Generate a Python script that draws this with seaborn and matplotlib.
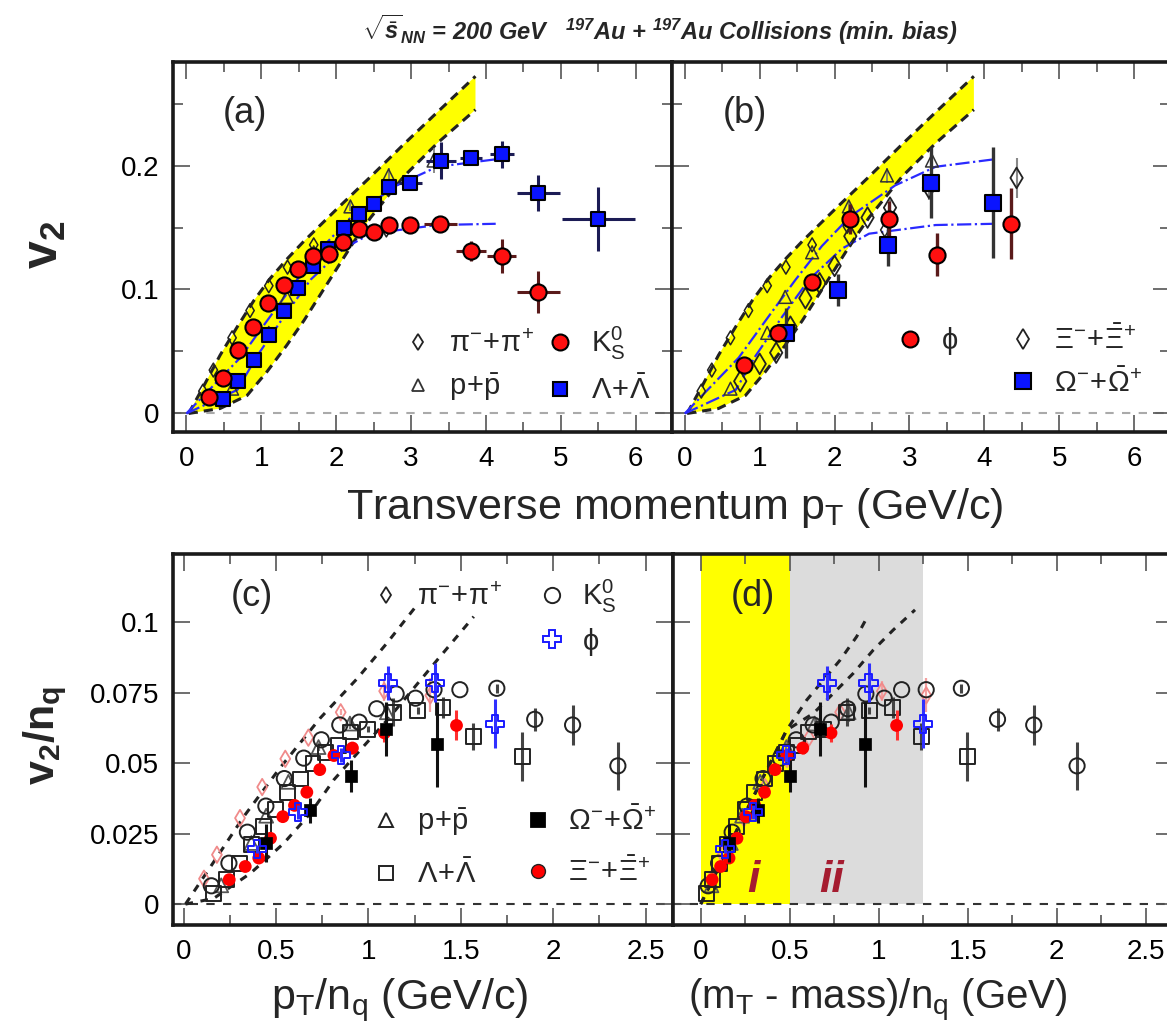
import numpy as np
import matplotlib
matplotlib.use("Agg")
import matplotlib.pyplot as plt
from matplotlib.lines import Line2D
from matplotlib.ticker import MultipleLocator, FuncFormatter
import seaborn as sns

# ------------------------------------------------------------------ data
# v2 vs pT (panels a, b)
pion_pt = [0.22, 0.36, 0.61, 0.85, 1.10, 1.35, 1.70, 2.17, 2.67]
pion_v2 = [0.018, 0.035, 0.061, 0.083, 0.103, 0.118, 0.136, 0.151, 0.148]
pion_err = [0, 0, 0, 0, 0, 0, 0.002, 0.007, 0.012]

proton_pt = [0.61, 1.10, 1.34, 1.70, 2.19, 2.70, 3.30]
proton_v2 = [0.020, 0.065, 0.094, 0.130, 0.167, 0.192, 0.204]
proton_err = [0, 0, 0, 0, 0.004, 0.006, 0.010]

k0s_pt = [0.30, 0.49, 0.69, 0.89, 1.09, 1.30, 1.49, 1.69, 1.90, 2.09, 2.30, 2.51,
          2.71, 2.99, 3.39, 3.80, 4.21, 4.70]
k0s_v2 = [0.013, 0.029, 0.051, 0.0695, 0.089, 0.1035, 0.1165, 0.127, 0.129, 0.1385,
          0.149, 0.146, 0.152, 0.152, 0.153, 0.131, 0.127, 0.098]
k0s_err = [0, 0, 0, 0, 0, 0, 0, 0, 0, 0, 0, 0, 0, 0, 0.003, 0.008, 0.014, 0.017]
k0s_xerr = [0, 0, 0, 0, 0, 0, 0, 0, 0, 0, 0, 0, 0, 0, 0.22, 0.20, 0.19, 0.29]

lam_pt = [0.49, 0.69, 0.90, 1.10, 1.30, 1.49, 1.69, 1.89, 2.10, 2.30, 2.51, 2.71,
          2.99, 3.40, 3.80, 4.21, 4.70, 5.50]
lam_v2 = [0.0115, 0.026, 0.043, 0.063, 0.083, 0.101, 0.119, 0.133, 0.150, 0.161,
          0.169, 0.183, 0.186, 0.204, 0.206, 0.209, 0.178, 0.157]
lam_err = [0, 0, 0, 0, 0, 0, 0, 0, 0, 0, 0, 0, 0.003, 0.015, 0.004, 0.011, 0.0145, 0.026]
lam_xerr = [0, 0, 0, 0, 0, 0, 0, 0, 0, 0, 0, 0, 0.15, 0.20, 0.15, 0.16, 0.29, 0.49]

phi_pt = [0.79, 1.24, 1.70, 2.21, 2.72, 3.37, 4.35]
phi_v2 = [0.039, 0.065, 0.106, 0.157, 0.157, 0.128, 0.153]
phi_err = [0.003, 0.005, 0.005, 0.012, 0.014, 0.0175, 0.0285]

xi_pt = [0.74, 1.00, 1.22, 1.41, 1.61, 1.80, 2.00, 2.21, 2.44, 2.74, 3.26, 4.43]
xi_v2 = [0.026, 0.040, 0.049, 0.070, 0.093, 0.105, 0.119, 0.143, 0.158, 0.166, 0.182, 0.190]
xi_err = [0, 0, 0, 0, 0, 0, 0, 0, 0, 0.006, 0.010, 0.016]

omega_pt = [1.345, 2.05, 2.71, 3.29, 4.11]
omega_v2 = [0.0647, 0.0996, 0.136, 0.186, 0.170]
omega_err = [0.020, 0.013, 0.017, 0.0286, 0.045]

# particle masses (GeV) and constituent quark numbers
mass_pion, mass_k0s, mass_proton = 0.1396, 0.4976, 0.9383
mass_lambda, mass_xi, mass_omega, mass_phi = 1.1157, 1.3217, 1.6725, 1.0195
nq_meson, nq_baryon = 2, 3

# hydro band (panels a, b)
band_up_x = [0.03, 0.23, 0.45, 0.68, 0.90, 1.12, 1.35, 1.57, 2.01, 2.46, 2.90, 3.35, 3.86]
band_up_y = [0.0, 0.022, 0.047, 0.070, 0.091, 0.109, 0.125, 0.139, 0.165, 0.191, 0.217, 0.243, 0.272]
band_lo_x = [0.03, 0.45, 0.81, 1.08, 1.34, 1.57, 1.79, 2.01, 2.23, 2.46, 2.90, 3.35, 3.86]
band_lo_y = [0.0, 0.004, 0.0145, 0.034, 0.055, 0.075, 0.096, 0.117, 0.138, 0.158, 0.191, 0.218, 0.245]

# coalescence curves (blue dash-dot, panels a, b)
coal_up_x = [0.0, 0.72, 1.14, 1.48, 1.83, 2.21, 2.81, 3.35, 4.13]
coal_up_y = [0.0, 0.045, 0.080, 0.108, 0.135, 0.159, 0.184, 0.199, 0.205]
coal_lo_x = [0.0, 0.68, 0.94, 1.30, 1.66, 2.10, 2.46, 3.35, 4.13]
coal_lo_y = [0.0, 0.019, 0.046, 0.078, 0.108, 0.133, 0.145, 0.152, 0.153]

# dashed curves panel c
c_up_x = [0.01, 0.145, 0.325, 0.524, 0.74, 0.94, 1.10, 1.27]
c_up_y = [0.0, 0.0132, 0.031, 0.0485, 0.066, 0.080, 0.0925, 0.1066]
c_lo_x = [0.01, 0.162, 0.361, 0.541, 0.686, 0.812, 0.939, 1.101, 1.372, 1.57]
c_lo_y = [0.0, 0.002, 0.0109, 0.0215, 0.0322, 0.044, 0.0534, 0.0652, 0.0865, 0.1019]

# dashed curves panel d
d_up_x = [0.0, 0.24, 0.483, 0.595, 0.689, 0.783, 0.876, 0.942]
d_up_y = [0.0, 0.031, 0.0617, 0.0723, 0.0794, 0.0865, 0.0948, 0.1025]
d_lo_x = [0.0, 0.24, 0.483, 0.633, 0.745, 0.857, 0.970, 1.082, 1.204]
d_lo_y = [0.0, 0.031, 0.0617, 0.0676, 0.0747, 0.0818, 0.0901, 0.0972, 0.1043]

# shaded regions in panel d
region_i = [0.0, 0.5]
region_ii = [0.5, 1.25]

# ------------------------------------------------------------------ style
sns.set_theme(style="ticks")
plt.rcParams["font.family"] = ["Liberation Sans", "DejaVu Sans"]
plt.rcParams["mathtext.fontset"] = "custom"
plt.rcParams["mathtext.rm"] = "Liberation Sans"
plt.rcParams["mathtext.it"] = "Liberation Sans:italic"
plt.rcParams["mathtext.bf"] = "Liberation Sans:bold"
try:
    plt.rcParams["mathtext.bfit"] = "Liberation Sans:bold:italic"
    HAS_BFIT = True
except KeyError:
    HAS_BFIT = False

W, H = 1167, 1035
fig = plt.figure(figsize=(W / 100, H / 100), dpi=100)


def box(l, r, t, b):
    return [l / W, 1 - b / H, (r - l) / W, (b - t) / H]


ax_a = fig.add_axes(box(173.3, 671.7, 62, 432.3))
ax_b = fig.add_axes(box(671.7, 1170.1, 62, 432.3))
ax_c = fig.add_axes(box(173.3, 673.3, 554, 925))
ax_d = fig.add_axes(box(673.3, 1173.3, 554, 925))

gfmt = FuncFormatter(lambda v, p: "%g" % round(v, 4))

for ax in (ax_a, ax_b, ax_c, ax_d):
    for s in ax.spines.values():
        s.set_linewidth(2.6)
        s.set_color("#1a1a1a")
    ax.tick_params(which="both", direction="in", top=True, right=True,
                   color="#555555", width=1.2, labelsize=20, pad=10,
                   labelcolor="black")
    ax.tick_params(which="major", length=12)
    ax.tick_params(which="minor", length=7)
    ax.xaxis.set_major_formatter(gfmt)
    ax.yaxis.set_major_formatter(gfmt)
    ax.set_xlabel("")
    ax.set_ylabel("")

for ax in (ax_a, ax_b):
    ax.set_xlim(-0.175, 6.48)
    ax.set_ylim(-0.0152, 0.2835)
    ax.xaxis.set_major_locator(MultipleLocator(1))
    ax.xaxis.set_minor_locator(MultipleLocator(0.5))
    ax.yaxis.set_major_locator(MultipleLocator(0.1))
    ax.yaxis.set_minor_locator(MultipleLocator(0.05))
    ax.axhline(0, color="#aaaaaa", ls=(0, (4, 4)), lw=1.5, zorder=0.5)

ax_c.set_xlim(-0.056, 2.65)
ax_d.set_xlim(-0.154, 2.655)
for ax in (ax_c, ax_d):
    ax.set_ylim(-0.0074, 0.1241)
    ax.xaxis.set_major_locator(MultipleLocator(0.5))
    ax.xaxis.set_minor_locator(MultipleLocator(0.25))
    ax.yaxis.set_major_locator(MultipleLocator(0.025))
    ax.axhline(0, color="#333333", ls=(0, (4, 4)), lw=1.5, zorder=0.5)

ax_b.tick_params(labelleft=False)
ax_d.tick_params(labelleft=False)


def line(ax, x, y, **kw):
    sns.lineplot(x=x, y=y, ax=ax, estimator=None, sort=False, **kw)


def scat(ax, x, y, **kw):
    sns.scatterplot(x=x, y=y, ax=ax, **kw)


def ebar(ax, x, y, yerr, xerr=None, color="k", lw=2.0, z=3):
    ax.errorbar(x, y, yerr=yerr, xerr=xerr, fmt="none", ecolor=color,
                elinewidth=lw, capsize=0, zorder=z)


# ------------------------------------------------------------------ top panels
for ax in (ax_a, ax_b):
    ax.fill(np.r_[band_up_x, band_lo_x[::-1]], np.r_[band_up_y, band_lo_y[::-1]],
            color="#ffff00", lw=0, zorder=1)
    line(ax, band_up_x, band_up_y, color="#222222", lw=2.2, linestyle=(0, (3, 2)), zorder=2)
    line(ax, band_lo_x, band_lo_y, color="#222222", lw=2.2, linestyle=(0, (3, 2)), zorder=2)
    line(ax, coal_up_x, coal_up_y, color="#2a2aff", lw=1.6, linestyle="-.", zorder=2.2)
    line(ax, coal_lo_x, coal_lo_y, color="#2a2aff", lw=1.6, linestyle="-.", zorder=2.2)
    ebar(ax, proton_pt, proton_v2, proton_err, color="#777777", lw=1.2, z=2.4)
    scat(ax, pion_pt, pion_v2, marker="d", s=50, facecolor="none",
         edgecolor="#222222", linewidth=1.1, zorder=2.5)
    scat(ax, proton_pt, proton_v2, marker="^", s=85, facecolor="none",
         edgecolor="#333333", linewidth=1.1, zorder=2.5)

# panel (a)
ebar(ax_a, lam_pt, lam_v2, lam_err, lam_xerr, color="#1c1c55", lw=2.2, z=3)
ebar(ax_a, k0s_pt, k0s_v2, k0s_err, k0s_xerr, color="#5a1a1a", lw=2.2, z=3)
scat(ax_a, lam_pt, lam_v2, marker="s", s=115, color="#0a14ff",
     edgecolor="black", linewidth=1.5, zorder=4)
scat(ax_a, k0s_pt, k0s_v2, marker="o", s=135, color="#ff1010",
     edgecolor="black", linewidth=1.5, zorder=4.5)

# panel (b)
ebar(ax_b, xi_pt, xi_v2, xi_err, color="#888888", lw=1.5, z=3)
scat(ax_b, xi_pt, xi_v2, marker="d", s=110, facecolor="none",
     edgecolor="#222222", linewidth=1.3, zorder=3.2)
ebar(ax_b, omega_pt, omega_v2, omega_err, color="#333333", lw=2.4, z=3.4)
ebar(ax_b, phi_pt, phi_v2, phi_err, color="#5a1a1a", lw=2.4, z=3.4)
scat(ax_b, omega_pt, omega_v2, marker="s", s=135, color="#0a14ff",
     edgecolor="black", linewidth=1.5, zorder=4)
scat(ax_b, phi_pt, phi_v2, marker="o", s=135, color="#ff1010",
     edgecolor="black", linewidth=1.5, zorder=4.5)


# ------------------------------------------------------------------ bottom panels
def scaled(pt, v2, err, m, nq):
    pt = np.asarray(pt, float)
    v2 = np.asarray(v2, float)
    err = np.asarray(err, float)
    ket = (np.sqrt(pt ** 2 + m ** 2) - m) / nq
    return pt / nq, v2 / nq, err / nq, ket


species = [
    # name, pt, v2, err, mass, nq, style, err colour, n shown
    ("pion", pion_pt, pion_v2, pion_err, mass_pion, nq_meson,
     dict(marker="d", s=70, facecolor="none", edgecolor="#f08a8a", linewidth=1.3), "#f4a0a0", 9),
    ("proton", proton_pt, proton_v2, proton_err, mass_proton, nq_baryon,
     dict(marker="^", s=100, facecolor="none", edgecolor="#555555", linewidth=1.3), "#777777", 7),
    ("lambda", lam_pt, lam_v2, lam_err, mass_lambda, nq_baryon,
     dict(marker="s", s=115, facecolor="none", edgecolor="#222222", linewidth=1.4), "#444444", 18),
    ("k0s", k0s_pt, k0s_v2, k0s_err, mass_k0s, nq_meson,
     dict(marker="o", s=120, facecolor="none", edgecolor="#222222", linewidth=1.4), "#444444", 18),
    ("xi", xi_pt, xi_v2, xi_err, mass_xi, nq_baryon,
     dict(marker="o", s=85, color="#ff0000", edgecolor="none", linewidth=0), "#ff3030", 12),
    ("omega", omega_pt, omega_v2, omega_err, mass_omega, nq_baryon,
     dict(marker="s", s=85, color="#000000", edgecolor="#000000", linewidth=0.5), "#111111", 5),
    ("phi", phi_pt, phi_v2, phi_err, mass_phi, nq_meson,
     dict(marker="P", s=170, facecolor="none", edgecolor="#1a1aff", linewidth=1.4), "#3030ff", 6),
]

# panel (d) shaded regions
ax_d.fill_between(region_i, 0, 0.1241, color="#ffff00", lw=0, zorder=0.2)
ax_d.fill_between(region_ii, 0, 0.1241, color="#dcdcdc", lw=0, zorder=0.2)

line(ax_c, c_up_x, c_up_y, color="#222222", lw=2.2, linestyle=(0, (2.5, 2.5)), zorder=1)
line(ax_c, c_lo_x, c_lo_y, color="#222222", lw=2.2, linestyle=(0, (2.5, 2.5)), zorder=1)
line(ax_d, d_up_x, d_up_y, color="#222222", lw=2.2, linestyle=(0, (2.5, 2.5)), zorder=1)
line(ax_d, d_lo_x, d_lo_y, color="#222222", lw=2.2, linestyle=(0, (2.5, 2.5)), zorder=1)

for i, (name, pt, v2, err, m, nq, st, ecol, n) in enumerate(species):
    x, y, e, ket = scaled(pt, v2, err, m, nq)
    z = 2 + i * 0.3
    elw = 1.6 if name in ("pion", "proton") else 2.2
    for ax, xx in ((ax_c, x), (ax_d, ket)):
        ebar(ax, xx[:n], y[:n], e[:n], color=ecol, lw=elw, z=z)
        scat(ax, xx[:n], y[:n], zorder=z + 0.1, **st)

ax_d.text(0.294, 0.0085, "i", color="#a51c30", fontsize=32, fontweight="bold",
          style="italic", ha="center", va="center", zorder=6)
ax_d.text(0.736, 0.0085, "ii", color="#a51c30", fontsize=32, fontweight="bold",
          style="italic", ha="center", va="center", zorder=6)

# ------------------------------------------------------------------ panel labels
for ax, lab, x, y in ((ax_a, "(a)", 0.144, 0.862), (ax_b, "(b)", 0.147, 0.862),
                      (ax_c, "(c)", 0.157, 0.885), (ax_d, "(d)", 0.159, 0.885)):
    ax.text(x, y, lab, transform=ax.transAxes, fontsize=26, ha="center",
            va="center", zorder=7)


# ------------------------------------------------------------------ legends
def h(marker, ms, mfc, mec, mew=1.3):
    return Line2D([], [], linestyle="none", marker=marker, markersize=ms,
                  markerfacecolor=mfc, markeredgecolor=mec, markeredgewidth=mew)


blank = Line2D([], [], linestyle="none", marker="none")
L_pi = r"$\mathrm{\pi}^{-}\!+\!\mathrm{\pi}^{+}$"
L_p = r"$\mathrm{p}\!+\!\bar{\mathrm{p}}$"
L_k = r"$\mathrm{K^{0}_{S}}$"
L_lam = r"$\Lambda\!+\!\bar{\Lambda}$"
L_phi = r"$\mathrm{\phi}$"
L_xi = r"$\Xi^{-}\!+\!\bar{\Xi}^{+}$"
L_om = r"$\Omega^{-}\!+\!\bar{\Omega}^{+}$"

leg_kw = dict(frameon=False, fontsize=21, borderpad=0, borderaxespad=0,
              handlelength=1.0, handletextpad=0.55, ncol=2)

ax_a.legend([h("d", 8, "none", "#222222"), h("^", 9, "none", "#333333"),
             h("o", 11.5, "#ff1010", "black", 1.5), h("s", 10.5, "#0a14ff", "black", 1.5)],
            [L_pi, L_p, L_k, L_lam], loc="upper left", bbox_to_anchor=(0.462, 0.29),
            columnspacing=0.4, labelspacing=0.45, **leg_kw)

ax_b.legend([h("o", 11.5, "#ff1010", "black", 1.5), blank,
             h("d", 10, "none", "#222222"), h("s", 11.5, "#0a14ff", "black", 1.5)],
            [L_phi, "", L_xi, L_om], loc="upper left", bbox_to_anchor=(0.449, 0.29),
            columnspacing=1.75, labelspacing=0.45, **leg_kw)

leg_c1 = ax_c.legend([h("d", 8, "none", "#222222"), blank,
                      h("o", 11, "none", "#222222", 1.4), h("P", 13, "none", "#1a1aff", 1.4)],
                     [L_pi, "", L_k, L_phi], loc="upper left", bbox_to_anchor=(0.397, 0.935),
                     columnspacing=1.2, labelspacing=0.35, **leg_kw)
ax_c.add_artist(leg_c1)
ax_c.legend([h("^", 10, "none", "#222222", 1.4), h("s", 10.5, "none", "#222222", 1.4),
             h("s", 9.5, "#000000", "#000000"), h("o", 10, "#ff0000", "#222222", 1.0)],
            [L_p, L_lam, L_om, L_xi], loc="upper left", bbox_to_anchor=(0.397, 0.32),
            columnspacing=1.6, labelspacing=0.75, **leg_kw)

# ------------------------------------------------------------------ figure texts
if HAS_BFIT:
    title = (r"$\sqrt{\bar{\mathbfit{s}}}_{\mathbfit{NN}}$ = 200 GeV   $^{\mathbfit{197}}$Au + "
             r"$^{\mathbfit{197}}$Au Collisions (min. bias)")
else:
    title = (r"$\sqrt{s}_{NN}$ = 200 GeV   $^{197}$Au + $^{197}$Au Collisions (min. bias)")
fig.text(660 / W, 1 - 30 / H, title, fontsize=17, fontweight="bold", style="italic",
         ha="center", va="center")

fig.text(675 / W, 1 - 508 / H, r"Transverse momentum $\mathrm{p_T}$ (GeV/c)",
         fontsize=31, ha="center", va="center")
fig.text(400 / W, 1 - 1000 / H, r"$\mathrm{p_T/n_q}$ (GeV/c)",
         fontsize=31, ha="center", va="center")
fig.text(878 / W, 1 - 1000 / H, r"$\mathrm{(m_T}$ - mass)/$\mathrm{n_q}$ (GeV)",
         fontsize=29, ha="center", va="center")
fig.text(45 / W, 1 - 245 / H, r"$\mathbf{v_2}$", fontsize=36, rotation=90,
         ha="center", va="center")
fig.text(45 / W, 1 - 735 / H, r"$\mathbf{v_2/n_q}$", fontsize=31, rotation=90,
         ha="center", va="center")

fig.savefig("out.png", dpi=100)
